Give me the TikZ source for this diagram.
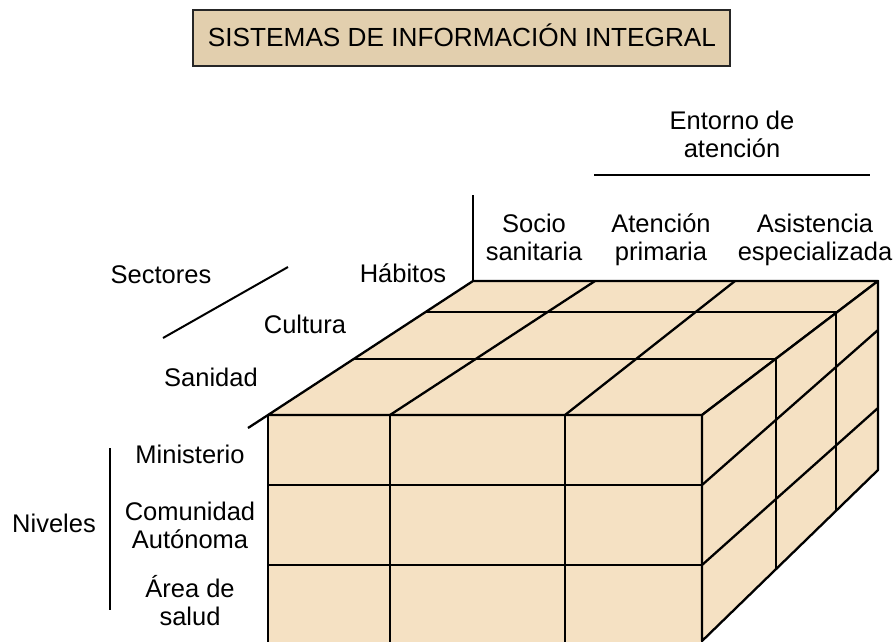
\documentclass[tikz,border=0pt]{standalone}
\usepackage{fontspec}
\setmainfont{Liberation Sans}
\usetikzlibrary{positioning}
\definecolor{cubefill}{HTML}{F5E1C3}
\definecolor{titlefill}{HTML}{E2CFAE}

\begin{document}
\begin{tikzpicture}[x=1pt,y=-1pt]
\tikzstyle{every node}+=[inner sep=0pt, align=center, anchor=base, font=\fontsize{25.5}{27.5}\selectfont]
\tikzstyle{edge}=[black, line width=2.3pt, line join=round]
\tikzstyle{rule}=[black, line width=2pt]
\clip (0,0) rectangle (896,641);
\fill [white] (0,0) rectangle (896,641);
% title
\draw [line width=2pt, draw=black!85, fill=titlefill] (193,10) rectangle (730,66);
\node [font=\fontsize{26.2}{28}\selectfont] (title) at (462,46) {SISTEMAS DE INFORMACIÓN INTEGRAL};
% entorno de atencion
\node (entorno) at (732,157) {Entorno de\\atención};
\coordinate (ent1) at (594,175);
\coordinate (ent2) at (870,175);
\draw [rule] (ent1) -- (ent2);
\coordinate (sep1) at (473,195);
\coordinate (sep2) at (473,281);
\draw [rule] (sep1) -- (sep2);
\node (socio) at (534,260) {Socio\\sanitaria};
\node (primaria) at (661,260) {Atención\\primaria};
\node (especial) at (815,260) {Asistencia\\especializada};
% sectores
\node (sectores) at (161,283) {Sectores};
\coordinate (sec1) at (163,338);
\coordinate (sec2) at (288,267);
\draw [rule] (sec1) -- (sec2);
\node (habitos) at (403,282) {Hábitos};
\node (cultura) at (305,333) {Cultura};
\node (sanidad) at (211,386) {Sanidad};
% niveles
\node (niveles) at (54,532) {Niveles};
\coordinate (niv1) at (110,448);
\coordinate (niv2) at (110,610);
\draw [rule] (niv1) -- (niv2);
\node (ministerio) at (190,463) {Ministerio};
\node (comunidad) at (190,548) {Comunidad\\Autónoma};
\node (area) at (190,625) {Área de\\salud};
% front face
\filldraw [edge, fill=cubefill] (268,415) rectangle (702,645);
\draw [edge] (268,485) -- (702,485);
\draw [edge] (268,565) -- (702,565);
\draw [edge] (390,415) -- (390,645);
\draw [edge] (565,415) -- (565,645);
% top face
\filldraw [edge, fill=cubefill] (268,415) -- (473,281) -- (878,281) -- (702,415) -- cycle;
\draw [edge] (248,428) -- (268,415);
\draw [edge] (390,415) -- (595,281);
\draw [edge] (565,415) -- (735,281);
\draw [edge] (353,359) -- (776,359);
\draw [edge] (425,312) -- (836,312);
% right face
\filldraw [edge, fill=cubefill] (702,415) -- (878,281) -- (878,470) -- (702,641) -- cycle;
\draw [edge] (776,359) -- (776,570);
\draw [edge] (836,312) -- (836,510);
\draw [edge] (702,485) -- (878,330);
\draw [edge] (702,565) -- (878,408);
\end{tikzpicture}
\end{document}
